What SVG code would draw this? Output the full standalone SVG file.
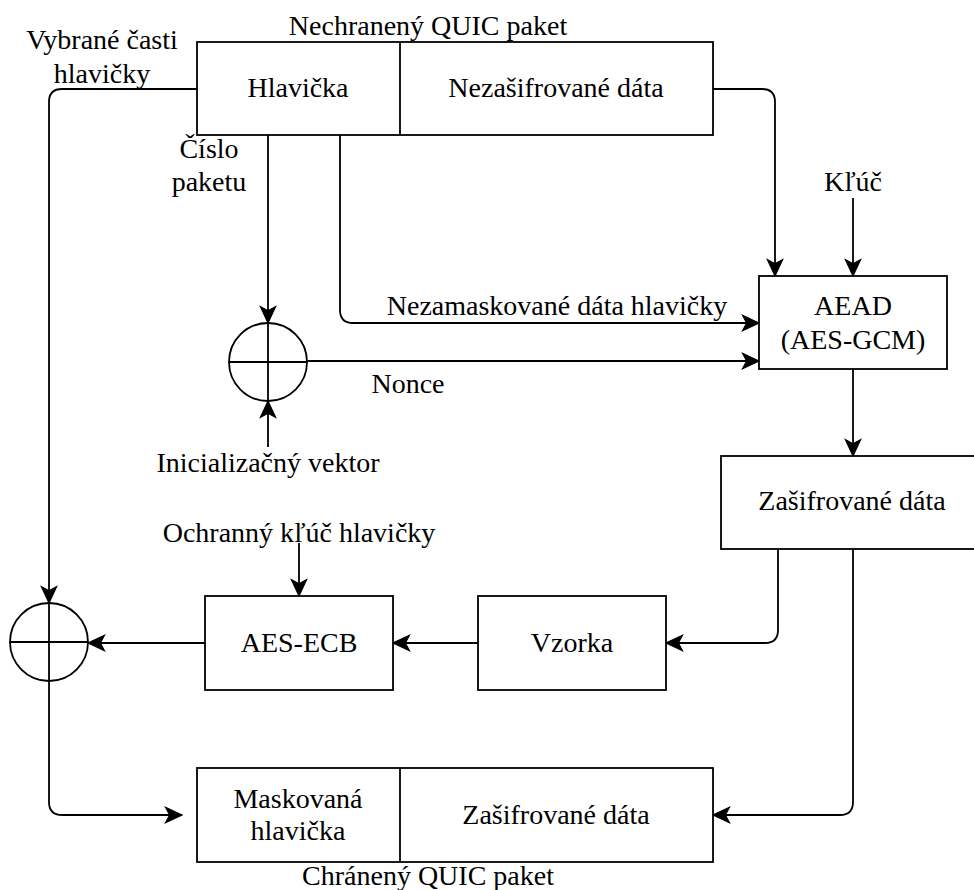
<svg xmlns="http://www.w3.org/2000/svg" width="974" height="890" viewBox="0 0 974 890">
<style>
.box{fill:#fff;stroke:#000;stroke-width:1.8}
.ln{fill:none;stroke:#000;stroke-width:1.8}
text{font-family:'Liberation Serif','Times New Roman','DejaVu Serif',serif;font-size:28px;fill:#000;text-anchor:middle}
</style>
<defs>
<marker id="ar" markerUnits="userSpaceOnUse" markerWidth="20" markerHeight="20" viewBox="-16 -8 17 16" refX="0" refY="0" orient="auto">
<path d="M0,0 L-14,-6.5 L-10.5,0 L-14,6.5 Z" fill="#000" stroke="#000" stroke-width="1"/>
</marker>
</defs>
<rect width="974" height="890" fill="#fff"/>
<g id="connectors">
<path class="ln" d="M197,89 L62,89 Q49,89 49,102 L49,603" marker-end="url(#ar)"/>
<path class="ln" d="M49,681 L49,802 Q49,815 62,815 L182,815" marker-end="url(#ar)"/>
<path class="ln" d="M713,89 L762,89 Q775,89 775,102 L775,276" marker-end="url(#ar)"/>
<path class="ln" d="M853,198 L853,276" marker-end="url(#ar)"/>
<path class="ln" d="M340,135 L340,310 Q340,323 353,323 L759,323" marker-end="url(#ar)"/>
<path class="ln" d="M268,135 L268,323" marker-end="url(#ar)"/>
<path class="ln" d="M307,361 L759,361" marker-end="url(#ar)"/>
<path class="ln" d="M268,447 L268,401" marker-end="url(#ar)"/>
<path class="ln" d="M853,369 L853,456" marker-end="url(#ar)"/>
<path class="ln" d="M778,549 L778,630 Q778,643 765,643 L666,643" marker-end="url(#ar)"/>
<path class="ln" d="M853,549 L853,802 Q853,815 840,815 L713,815" marker-end="url(#ar)"/>
<path class="ln" d="M478,643 L393,643" marker-end="url(#ar)"/>
<path class="ln" d="M205,643 L88,643" marker-end="url(#ar)"/>
<path class="ln" d="M299,543 L299,596" marker-end="url(#ar)"/>
</g>
<g id="packet-top">
<rect class="box" x="197" y="42" width="516" height="93"/>
<line class="ln" x1="400" y1="42" x2="400" y2="135"/>
<text x="428" y="35">Nechranený QUIC paket</text>
<text x="298" y="97">Hlavička</text>
<text x="556" y="97">Nezašifrované dáta</text>
</g>
<g id="label-vybrane">
<text x="102" y="49">Vybrané časti</text>
<text x="102" y="83">hlavičky</text>
</g>
<g id="label-cislo">
<text x="209" y="158">Číslo</text>
<text x="209" y="191">paketu</text>
</g>
<g id="label-kluc"><text x="853" y="191">Kľúč</text></g>
<g id="label-nezamaskovane"><text x="557" y="315">Nezamaskované dáta hlavičky</text></g>
<g id="label-nonce"><text x="408" y="393">Nonce</text></g>
<g id="label-iv"><text x="268" y="472">Inicializačný vektor</text></g>
<g id="label-ochranny"><text x="299" y="542">Ochranný kľúč hlavičky</text></g>
<g id="xor1">
<circle class="box" cx="268" cy="362" r="39"/>
<line class="ln" x1="229" y1="362" x2="307" y2="362"/>
<line class="ln" x1="268" y1="323" x2="268" y2="401"/>
</g>
<g id="xor2">
<circle class="box" cx="49" cy="642" r="39"/>
<line class="ln" x1="10" y1="642" x2="88" y2="642"/>
<line class="ln" x1="49" y1="603" x2="49" y2="681"/>
</g>
<g id="aead">
<rect class="box" x="759" y="276" width="188" height="93"/>
<text x="853" y="315">AEAD</text>
<text x="853" y="349">(AES-GCM)</text>
</g>
<g id="zasifrovane">
<rect class="box" x="721" y="456" width="264" height="93"/>
<text x="852" y="510">Zašifrované dáta</text>
</g>
<g id="vzorka">
<rect class="box" x="478" y="596" width="188" height="94"/>
<text x="572" y="652">Vzorka</text>
</g>
<g id="aes-ecb">
<rect class="box" x="205" y="596" width="188" height="94"/>
<text x="299" y="652">AES-ECB</text>
</g>
<g id="packet-bottom">
<rect class="box" x="197" y="768" width="516" height="94"/>
<line class="ln" x1="400" y1="768" x2="400" y2="862"/>
<text x="298" y="808">Maskovaná</text>
<text x="298" y="840">hlavička</text>
<text x="556" y="824">Zašifrované dáta</text>
<text x="428" y="885">Chránený QUIC paket</text>
</g>
</svg>
